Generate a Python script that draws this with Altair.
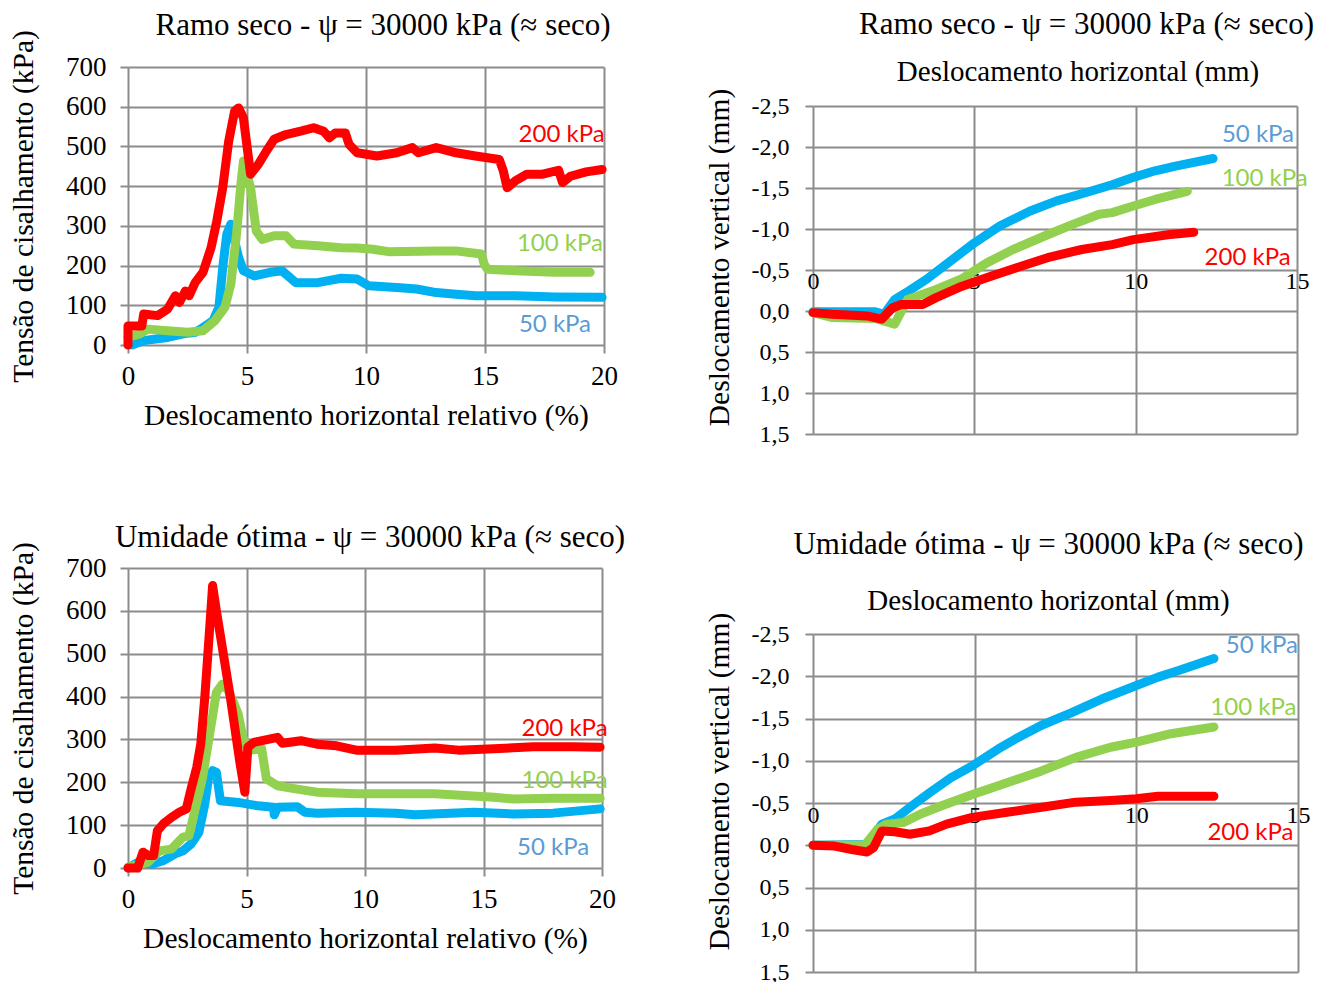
import altair as alt
import pandas as pd

FONT = "Liberation Serif"
LFONT = "Lato"
C50, C100, C200 = "#00B0F0", "#92D050", "#FF0000"
L50, L100, L200 = "#5B9BD5", "#92D050", "#FF0000"
GRID = "#8C8C8C"

# ---------------- Top-left: Ramo seco, shear stress vs relative displacement
tl_50_x = [0.17, 0.66, 1.16, 1.66, 2.32, 2.82, 3.15, 3.57, 3.82, 3.98, 4.15, 4.32, 4.48, 4.65, 4.85, 5.31,
           5.98, 6.47, 7.05, 7.97, 8.96, 9.63, 10.12, 11.29, 12.12, 12.95, 13.78, 14.6, 16.27, 17.93, 19.92]
tl_50_y = [0, 11, 15, 19, 28, 32, 44, 61, 95, 195, 279, 304, 262, 220, 187, 174,
           183, 187, 157, 157, 168, 166, 149, 145, 141, 132, 128, 124, 124, 121, 120]
tl_100_x = [0, 0.5, 0.83, 1.66, 2.5, 3.15, 3.65, 4.07, 4.32, 4.56, 4.73, 4.85, 5.15, 5.39, 5.64, 6.14,
            6.64, 6.97, 7.97, 8.96, 9.63, 10.29, 10.95, 12.95, 13.78, 14.85, 14.97, 15.1, 16.27, 17.93, 19.42]
tl_100_y = [20, 28, 40, 36, 32, 36, 61, 95, 153, 279, 396, 463, 396, 287, 266, 275,
            275, 254, 250, 245, 244, 241, 235, 237, 237, 229, 203, 191, 187, 183, 183]
tl_200_x = [0, 0, 0.58, 0.66, 1.24, 1.66, 1.99, 2.16, 2.41, 2.57, 2.82, 3.15, 3.49, 3.73, 3.98, 4.23,
            4.48, 4.65, 4.85, 5.15, 5.48, 5.81, 6.14, 6.64, 7.30, 7.80, 8.22, 8.46, 8.71, 9.13, 9.29,
            9.63, 10.46, 11.29, 11.95, 12.2, 12.95, 13.78, 14.6, 15.6, 15.77, 15.93, 16.27, 16.76,
            17.43, 18.09, 18.26, 18.59, 19.25, 19.92]
tl_200_y = [0, 48, 48, 78, 74, 90, 124, 107, 136, 124, 157, 183, 245, 312, 396, 513,
            589, 597, 572, 430, 455, 488, 518, 530, 539, 547, 538, 522, 534, 534, 505,
            484, 476, 484, 497, 484, 497, 484, 476, 467, 438, 396, 413, 430,
            430, 440, 409, 425, 436, 442]

# ---------------- Top-right: Ramo seco, vertical vs horizontal displacement (mm)
tr_50_x = [0, 1.93, 2.2, 2.53, 2.87, 3.53, 4.33, 5.0, 5.8, 6.73, 7.53, 8.6, 9.27, 9.93, 10.6, 11.27, 12.4]
tr_50_y = [0.01, 0.01, 0.04, -0.14, -0.22, -0.39, -0.63, -0.83, -1.04, -1.22, -1.34, -1.46, -1.54,
           -1.63, -1.71, -1.77, -1.86]
tr_100_x = [0, 0.6, 1.93, 2.53, 2.93, 3.8, 4.6, 5.4, 6.2, 7.27, 8.07, 8.87, 9.27, 9.93, 10.6, 11.6]
tr_100_y = [0.02, 0.08, 0.09, 0.16, -0.14, -0.26, -0.39, -0.59, -0.75, -0.93, -1.06, -1.18, -1.2,
            -1.28, -1.36, -1.46]
tr_200_x = [0, 0.6, 1.67, 2.13, 2.47, 2.73, 3.4, 3.8, 4.6, 5.4, 6.33, 7.27, 8.33, 9.27, 9.93, 11.0, 11.8]
tr_200_y = [0.02, 0.04, 0.06, 0.1, -0.04, -0.08, -0.08, -0.16, -0.3, -0.41, -0.53, -0.65, -0.75,
            -0.81, -0.87, -0.93, -0.96]

# ---------------- Bottom-left: Umidade ótima, shear stress
bl_50_x = [0, 0.41, 1.0, 1.49, 1.99, 2.32, 2.66, 2.99, 3.24, 3.4, 3.57, 3.73, 3.9, 4.65, 5.48, 6.14,
           6.17, 6.31, 7.14, 7.47, 7.97, 9.63, 11.29, 12.12, 14.6, 16.27, 17.93, 19.92]
bl_50_y = [0, 13, 9, 17, 33, 40, 56, 83, 149, 212, 227, 223, 157, 153, 145, 142,
           124, 142, 143, 130, 128, 130, 128, 124, 130, 126, 128, 138]
bl_100_x = [0, 0.83, 1.33, 1.83, 2.32, 2.57, 2.82, 3.15, 3.49, 3.73, 3.98, 4.23, 4.48, 4.65, 4.85,
            5.06, 5.64, 5.84, 6.31, 7.14, 7.97, 9.63, 11.29, 12.95, 15.44, 16.27, 17.93, 19.92]
bl_100_y = [2, 13, 40, 44, 72, 75, 134, 212, 328, 410, 429, 414, 383, 359, 305,
            274, 278, 208, 192, 184, 177, 173, 173, 173, 165, 161, 163, 163]
bl_200_x = [0, 0.41, 0.63, 0.86, 1.08, 1.24, 1.49, 1.83, 2.16, 2.46, 2.66, 2.9, 3.07, 3.24, 3.4,
            3.57, 3.73, 4.32, 4.73, 4.93, 5.06, 5.31, 6.31, 6.51, 7.3, 7.97, 8.8, 9.63, 11.29,
            12.95, 13.94, 15.44, 17.1, 18.76, 19.92]
bl_200_y = [0, 0, 37, 29, 29, 87, 103, 118, 130, 138, 184, 235, 289, 398, 523,
            659, 600, 398, 243, 177, 282, 293, 305, 291, 297, 289, 285, 275, 275,
            280, 275, 278, 283, 283, 282]

# ---------------- Bottom-right: Umidade ótima, vertical displacement
br_50_x = [0, 1.6, 1.73, 2.13, 2.53, 3.07, 3.6, 4.27, 4.93, 5.73, 6.27, 7.07, 8.0, 8.93, 10.0, 10.67,
           11.33, 12.4]
br_50_y = [0, -0.01, -0.03, -0.25, -0.31, -0.47, -0.62, -0.8, -0.94, -1.14, -1.26, -1.42, -1.57,
           -1.73, -1.89, -1.99, -2.07, -2.21]
br_100_x = [0, 1.6, 2.0, 2.27, 2.8, 3.33, 4.0, 4.93, 6.0, 7.07, 8.13, 9.2, 10.0, 11.07, 12.4]
br_100_y = [0, 0, -0.19, -0.25, -0.27, -0.37, -0.47, -0.6, -0.74, -0.88, -1.04, -1.16, -1.22, -1.32, -1.4]
br_200_x = [0, 0.67, 1.2, 1.67, 1.87, 2.13, 2.53, 3.0, 3.6, 4.13, 4.93, 6.0, 7.07, 8.13, 9.2, 10.0,
            10.67, 12.4]
br_200_y = [0, 0.01, 0.05, 0.08, 0.03, -0.17, -0.16, -0.13, -0.17, -0.25, -0.33, -0.39, -0.45,
            -0.51, -0.53, -0.55, -0.58, -0.58]

# series label texts and anchor points (data units)
label_text = ["50 kPa", "100 kPa", "200 kPa"]
label_color = [L50, L100, L200]
tl_lab_x, tl_lab_y = [17.94, 18.15, 18.22], [50, 254, 530]
tr_lab_x, tr_lab_y = [13.79, 14.0, 13.47], [-2.146, -1.606, -0.642]
bl_lab_x, bl_lab_y = [17.94, 18.42, 18.42], [47, 203, 325]
br_lab_x, br_lab_y = [13.88, 13.62, 13.53], [-2.36, -1.62, -0.15]

title_seco = "Ramo seco - ψ = 30000 kPa (≈ seco)"
title_otima = "Umidade ótima - ψ = 30000 kPa (≈ seco)"
ylab_tau = "Tensão de cisalhamento (kPa)"
ylab_v = "Deslocamento vertical (mm)"
xlab_rel = "Deslocamento horizontal relativo (%)"
xlab_mm = "Deslocamento horizontal (mm)"


def line_layer(xs, ys, color, xenc, yenc):
    df = pd.DataFrame({"x": xs, "y": ys, "i": list(range(len(xs)))})
    return alt.Chart(df).mark_line(
        color=color, strokeWidth=9, strokeCap="round", strokeJoin="round"
    ).encode(x=xenc, y=yenc, order="i:Q")


def label_layer(xs, ys, xenc, yenc):
    df = pd.DataFrame({"x": xs, "y": ys, "t": label_text, "c": label_color})
    return alt.Chart(df).mark_text(
        font=LFONT, fontSize=24, align="center", baseline="middle"
    ).encode(x=xenc, y=yenc, text="t:N", color=alt.Color("c:N", scale=None))


def stress_panel(series, lab, title, w, h, dx, toff):
    xenc = alt.X("x:Q", scale=alt.Scale(domain=[0, 20], nice=False),
                 axis=alt.Axis(values=[0, 5, 10, 15, 20], title=xlab_rel, labelFontSize=27,
                               titleFontSize=29.5, tickSize=8, labelPadding=10, titlePadding=12,
                               labelFlush=False))
    yenc = alt.Y("y:Q", scale=alt.Scale(domain=[0, 700], nice=False),
                 axis=alt.Axis(values=list(range(0, 701, 100)), title=ylab_tau, labelFontSize=27,
                               titleFontSize=29.5, tickSize=8, labelPadding=14, titlePadding=27,
                               labelFlush=False))
    layers = [line_layer(xs, ys, c, xenc, yenc) for xs, ys, c in series]
    layers.append(label_layer(lab[0], lab[1], xenc, yenc))
    return alt.layer(*layers).properties(
        width=w, height=h,
        title=alt.TitleParams(text=title, fontSize=31, frame="group", anchor="middle", dx=dx, offset=toff))


def vert_panel(series, lab, w, h, title_y, title=None):
    xenc = alt.X("x:Q", scale=alt.Scale(domain=[0, 15], nice=False),
                 axis=alt.Axis(values=[0, 5, 10, 15], title=None, orient="top", offset=-0.625 * h,
                               ticks=False, tickSize=0, labelFontSize=24, labelPadding=18,
                               labelFlush=False))
    yenc = alt.Y("y:Q", scale=alt.Scale(domain=[-2.5, 1.5], nice=False, reverse=True),
                 axis=alt.Axis(values=[-2.5, -2.0, -1.5, -1.0, -0.5, 0, 0.5, 1.0, 1.5], title=ylab_v,
                               labelExpr="replace(replace(format(datum.value, '.1f'), '.', ','), '\u2212', '-')",
                               labelFontSize=24, titleFontSize=29.5, tickSize=8, labelPadding=16,
                               titlePadding=17, titleY=title_y, labelFlush=False))
    layers = [line_layer(xs, ys, c, xenc, yenc) for xs, ys, c in series]
    layers.append(label_layer(lab[0], lab[1], xenc, yenc))
    ch = alt.layer(*layers).properties(width=w, height=h)
    if title is not None:
        ch = ch.properties(title=title)
    return ch


def header(title, sub, w, h, tx, ty, sx, sy):
    t1 = alt.Chart(pd.DataFrame({"t": [title]})).mark_text(
        font=FONT, fontSize=31, color="black", align="center", baseline="middle"
    ).encode(x=alt.value(tx), y=alt.value(ty), text="t:N")
    t2 = alt.Chart(pd.DataFrame({"t": [sub]})).mark_text(
        font=FONT, fontSize=29, color="black", align="center", baseline="middle"
    ).encode(x=alt.value(sx), y=alt.value(sy), text="t:N")
    return alt.layer(t1, t2).properties(width=w, height=h)


tl = stress_panel([(tl_50_x, tl_50_y, C50), (tl_100_x, tl_100_y, C100), (tl_200_x, tl_200_y, C200)],
                  (tl_lab_x, tl_lab_y), title_seco, 476, 278, 17, -12)
bl = stress_panel([(bl_50_x, bl_50_y, C50), (bl_100_x, bl_100_y, C100), (bl_200_x, bl_200_y, C200)],
                  (bl_lab_x, bl_lab_y), title_otima, 474, 300, 5, -12)

tr_head = header(title_seco, xlab_mm, 484, 20, 273.5, -42.5, 265, 4.5)
tr = vert_panel([(tr_50_x, tr_50_y, C50), (tr_100_x, tr_100_y, C100), (tr_200_x, tr_200_y, C200)],
                (tr_lab_x, tr_lab_y), 484, 328, 151)
br = vert_panel([(br_50_x, br_50_y, C50), (br_100_x, br_100_y, C100), (br_200_x, br_200_y, C200)],
                (br_lab_x, br_lab_y), 485, 338, 147,
                title=alt.TitleParams(text=title_otima, subtitle=xlab_mm, fontSize=31, subtitleFont=FONT,
                                      subtitleFontSize=29, subtitleColor="black", subtitlePadding=26,
                                      frame="group", anchor="middle", dx=-7, offset=-5))

chart = alt.hconcat(
    alt.vconcat(tl, bl, spacing=91),
    alt.vconcat(tr_head, alt.vconcat(tr, br, spacing=83), spacing=1),
    spacing=78,
).properties(padding=0).configure_view(strokeWidth=0).configure_axis(
    gridColor=GRID, gridWidth=2, tickColor=GRID, tickWidth=2, domain=False,
    labelFont=FONT, titleFont=FONT, labelColor="black", titleColor="black",
    titleFontWeight="normal",
).configure_title(font=FONT, fontWeight="normal", color="black")

chart.save("out.html", embed_options={"renderer": "svg", "actions": False})
